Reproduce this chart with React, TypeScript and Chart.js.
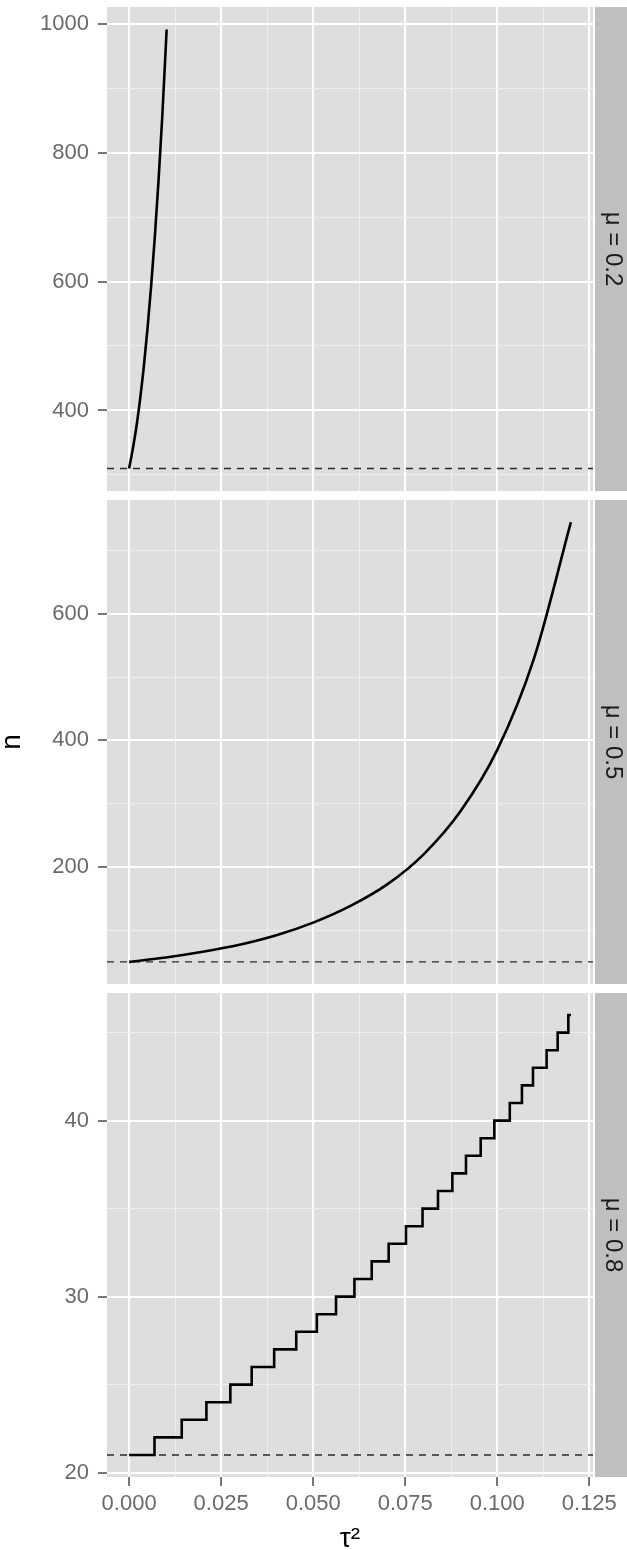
import React, { useEffect, useRef } from "react";
import { Chart, registerables } from "chart.js";

Chart.register(...registerables);

// ---------------- data ----------------
const xMajorTicks = [0, 0.025, 0.05, 0.075, 0.1, 0.125];
const xMinorTicks = [0.0125, 0.0375, 0.0625, 0.0875, 0.1125];
const xLimits = [-0.006, 0.126];
const xTitle = "τ²";
const yTitle = "n";

const stripLabels = ["μ = 0.2", "μ = 0.5", "μ = 0.8"];

// mu = 0.2
const tau02 = [0, 0.001, 0.002, 0.003, 0.004, 0.005, 0.006, 0.007, 0.008, 0.009, 0.0102];
const n02 = [310, 340, 375, 418, 468, 527, 594, 670, 757, 855, 991];
const base02 = 310;
const yMajor02 = [400, 600, 800, 1000];
const yMinor02 = [300, 500, 700, 900];
const yLimits02 = [275, 1026];

// mu = 0.5
const tau05 = [0, 0.01, 0.02, 0.03, 0.04, 0.05, 0.06, 0.07, 0.08, 0.09, 0.1, 0.11, 0.12];
const n05 = [50, 57, 66, 77, 92, 112, 138, 172, 220, 288, 385, 530, 745];
const base05 = 50;
const yMajor05 = [200, 400, 600];
const yMinor05 = [100, 300, 500, 700];
const yLimits05 = [15, 780];

// mu = 0.8 (step function: tau where each n level starts)
const tau08 = [0, 0.0069, 0.0143, 0.021, 0.0275, 0.0333, 0.0394, 0.0454, 0.051, 0.0562, 0.0612, 0.0659, 0.0705, 0.0752, 0.0797, 0.0839, 0.0878, 0.0915, 0.0955, 0.0992, 0.1034, 0.1067, 0.1097, 0.1134, 0.1164, 0.1193, 0.12];
const n08 = [21, 22, 23, 24, 25, 26, 27, 28, 29, 30, 31, 32, 33, 34, 35, 36, 37, 38, 39, 40, 41, 42, 43, 44, 45, 46, 46];
const base08 = 21;
const yMajor08 = [20, 30, 40];
const yMinor08 = [25, 35, 45];
const yLimits08 = [19.75, 47.25];

// ---------------- styling / layout ----------------
const FONT = '"Liberation Sans", Arial, Helvetica, sans-serif';
const W = 627;
const PANEL_H = 484;
const PANEL_TOPS = [7, 500, 993];
const PLOT_LEFT = 107;
const PLOT_RIGHT = 593;
const PAD_TOP = 7;
const X_AXIS_H = 73;
const PAGE_H = 1550;

const PANEL_BG = "#dedede";
const STRIP_BG = "#bfbfbf";
const TICK_TEXT = "#6a6a6a";

const near = (v: number, arr: number[]) => arr.some((m) => Math.abs(m - v) < 1e-9);

type PanelDef = {
  tau: number[];
  n: number[];
  base: number;
  yMajor: number[];
  yMinor: number[];
  yLimits: number[];
  strip: string;
  stepped: boolean;
};

const panels: PanelDef[] = [
  { tau: tau02, n: n02, base: base02, yMajor: yMajor02, yMinor: yMinor02, yLimits: yLimits02, strip: stripLabels[0], stepped: false },
  { tau: tau05, n: n05, base: base05, yMajor: yMajor05, yMinor: yMinor05, yLimits: yLimits05, strip: stripLabels[1], stepped: false },
  { tau: tau08, n: n08, base: base08, yMajor: yMajor08, yMinor: yMinor08, yLimits: yLimits08, strip: stripLabels[2], stepped: true },
];

function Panel({ def, index }: { def: PanelDef; index: number }) {
  const ref = useRef<HTMLCanvasElement | null>(null);
  const isBottom = index === 2;
  const isMiddle = index === 1;
  const canvasTop = PANEL_TOPS[index] - PAD_TOP;
  const padBottom = isBottom ? 0 : 4;
  const canvasH = isBottom ? PAGE_H - canvasTop : PAD_TOP + PANEL_H + padBottom;

  useEffect(() => {
    if (!ref.current) return;
    const xTicksAll = [...xMajorTicks, ...xMinorTicks].sort((a, b) => a - b);
    const yTicksAll = [...def.yMajor, ...def.yMinor].sort((a, b) => a - b);

    const bgPlugin = {
      id: "panelDecor" + index,
      beforeDraw(chart: any) {
        const { ctx, chartArea } = chart;
        ctx.save();
        ctx.fillStyle = PANEL_BG;
        ctx.fillRect(chartArea.left, chartArea.top, chartArea.right - chartArea.left, chartArea.bottom - chartArea.top);
        ctx.restore();
      },
      afterDraw(chart: any) {
        const { ctx, chartArea } = chart;
        ctx.save();
        ctx.fillStyle = STRIP_BG;
        const sx = chartArea.right + 2;
        ctx.fillRect(sx, chartArea.top, W - sx, chartArea.bottom - chartArea.top);
        ctx.translate(613, (chartArea.top + chartArea.bottom) / 2);
        ctx.rotate(Math.PI / 2);
        ctx.fillStyle = "#1a1a1a";
        ctx.font = `24px ${FONT}`;
        ctx.textAlign = "center";
        ctx.textBaseline = "middle";
        ctx.fillText(def.strip, 0, 0);
        ctx.restore();
      },
    };

    const chart = new Chart(ref.current, {
      type: "line",
      data: {
        datasets: [
          {
            data: def.tau.map((t, i) => ({ x: t, y: def.n[i] })),
            borderColor: "#000000",
            borderWidth: 2.6,
            pointRadius: 0,
            fill: false,
            stepped: def.stepped ? "before" : false,
            cubicInterpolationMode: def.stepped ? "default" : "monotone",
            order: 0,
          } as any,
          {
            data: [
              { x: xLimits[0], y: def.base },
              { x: xLimits[1], y: def.base },
            ],
            borderColor: "#2a2a2a",
            borderWidth: 1.4,
            borderDash: [7, 6],
            pointRadius: 0,
            fill: false,
            order: 1,
          },
        ],
      },
      options: {
        animation: false,
        responsive: false,
        devicePixelRatio: 1,
        layout: { padding: { left: 0, right: W - PLOT_RIGHT, top: PAD_TOP, bottom: padBottom } },
        plugins: { legend: { display: false }, tooltip: { enabled: false } },
        scales: {
          x: {
            type: "linear",
            min: xLimits[0],
            max: xLimits[1],
            afterBuildTicks: (s: any) => {
              s.ticks = xTicksAll.map((v) => ({ value: v }));
            },
            afterFit: (s: any) => {
              s.height = isBottom ? X_AXIS_H : 0;
              s.paddingLeft = 0;
              s.paddingRight = 0;
            },
            border: { display: false },
            grid: {
              color: (c: any) => (c.tick && near(c.tick.value, xMajorTicks) ? "#ffffff" : "#eeeeee"),
              lineWidth: (c: any) => (c.tick && near(c.tick.value, xMajorTicks) ? 2 : 1),
              drawTicks: isBottom,
              tickLength: 9,
              tickColor: (c: any) => (c.tick && near(c.tick.value, xMajorTicks) ? "#777777" : "rgba(0,0,0,0)"),
              tickWidth: 2,
            },
            ticks: {
              display: isBottom,
              autoSkip: false,
              maxRotation: 0,
              padding: 5,
              color: TICK_TEXT,
              font: { family: FONT, size: 22 },
              callback: (v: any) => (near(Number(v), xMajorTicks) ? Number(v).toFixed(3) : ""),
            },
            title: {
              display: isBottom,
              text: xTitle,
              color: "#000000",
              font: { family: FONT, size: 28, lineHeight: 0.74 },
              padding: { top: 0, bottom: 0 },
            },
          },
          y: {
            type: "linear",
            min: def.yLimits[0],
            max: def.yLimits[1],
            afterBuildTicks: (s: any) => {
              s.ticks = yTicksAll.map((v) => ({ value: v }));
            },
            afterFit: (s: any) => {
              s.width = PLOT_LEFT;
              s.paddingTop = 0;
              s.paddingBottom = 0;
            },
            border: { display: false },
            grid: {
              color: (c: any) => (c.tick && near(c.tick.value, def.yMajor) ? "#ffffff" : "#eeeeee"),
              lineWidth: (c: any) => (c.tick && near(c.tick.value, def.yMajor) ? 2 : 1),
              drawTicks: true,
              tickLength: 9,
              tickColor: (c: any) => (c.tick && near(c.tick.value, def.yMajor) ? "#777777" : "rgba(0,0,0,0)"),
              tickWidth: 2,
            },
            ticks: {
              autoSkip: false,
              padding: 9,
              color: TICK_TEXT,
              font: { family: FONT, size: 22 },
              callback: (v: any) => (near(Number(v), def.yMajor) ? String(v) : ""),
            },
            title: {
              display: isMiddle,
              text: yTitle,
              color: "#000000",
              font: { family: FONT, size: 28, lineHeight: 0.9 },
              padding: { top: 0, bottom: 0 },
            },
          },
        },
      },
      plugins: [bgPlugin],
    } as any);
    return () => chart.destroy();
  }, []);

  return (
    <canvas
      ref={ref}
      width={W}
      height={canvasH}
      style={{ position: "absolute", left: 0, top: canvasTop, width: W, height: canvasH, display: "block" }}
    />
  );
}

export default function App() {
  return (
    <div style={{ position: "absolute", left: 0, top: 0, width: W, height: PAGE_H, background: "#ffffff", overflow: "hidden" }}>
      {panels.map((p, i) => (
        <Panel key={i} def={p} index={i} />
      ))}
    </div>
  );
}
